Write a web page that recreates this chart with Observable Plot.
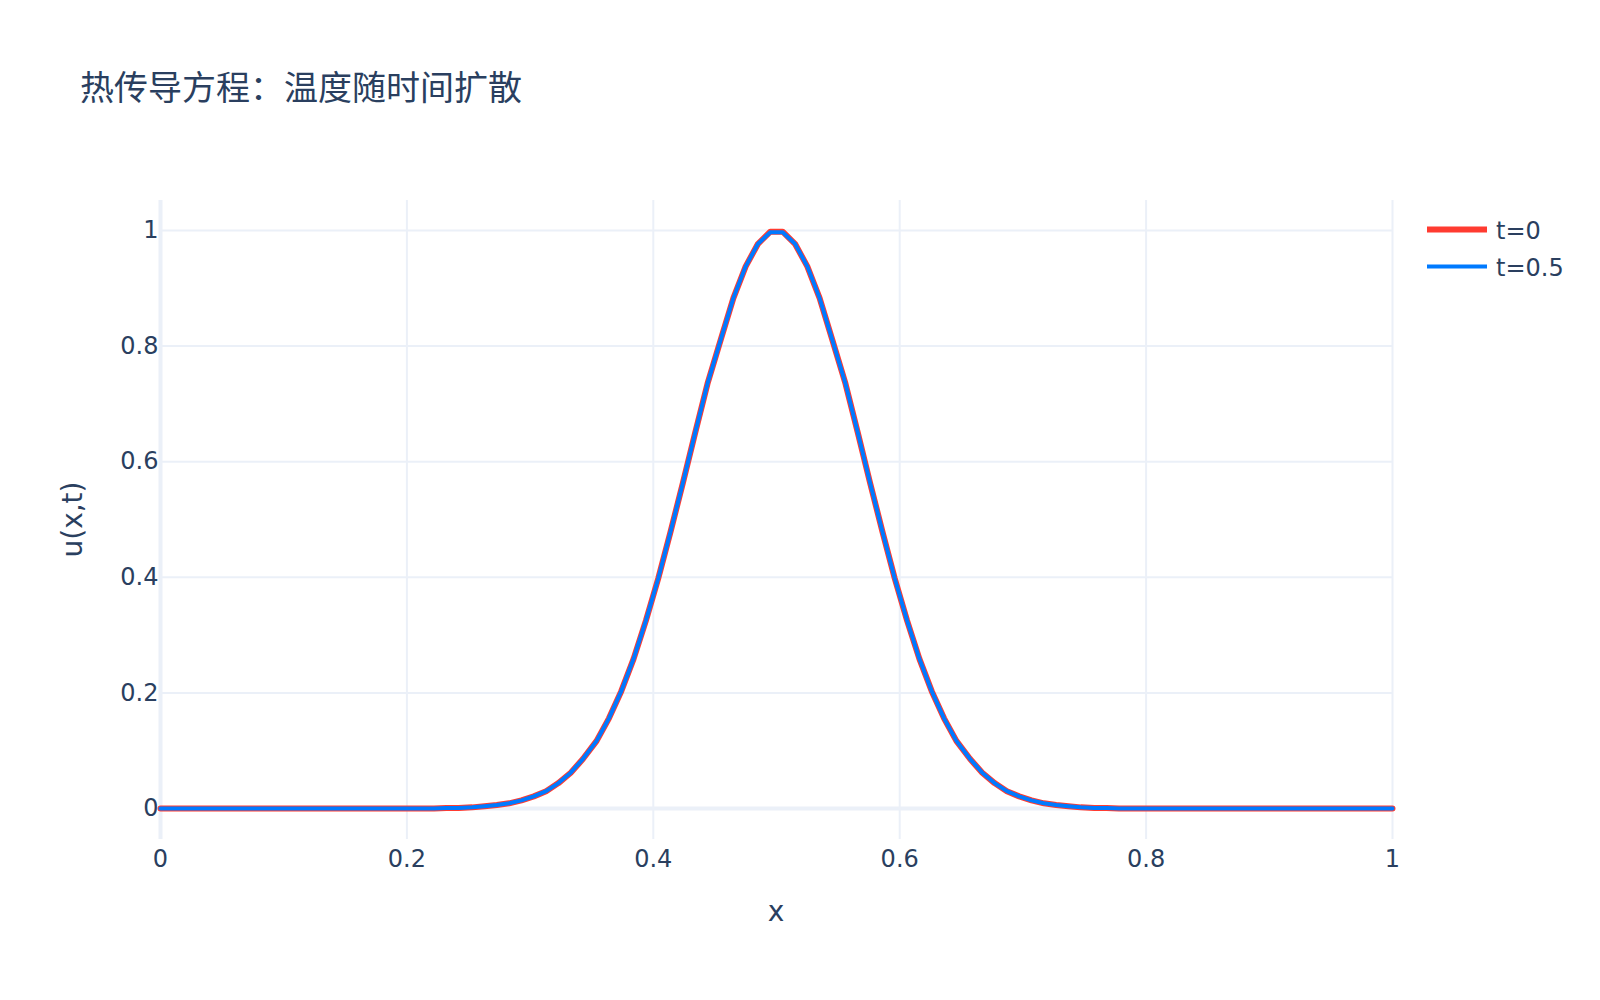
<!DOCTYPE html>
<html>
<head>
<meta charset="utf-8">
<script src="https://cdn.jsdelivr.net/npm/d3@7"></script>
<script src="https://cdn.jsdelivr.net/npm/@observablehq/plot@0.6"></script>
<style>
  html, body { margin: 0; padding: 0; background: #fff; overflow: hidden; }
  #chart { width: 1600px; height: 1000px; }
</style>
</head>
<body>
<div id="chart"></div>
<script>
// ---- data ----
const title = "热传导方程：温度随时间扩散";
const xLabel = "x";
const yLabel = "u(x,t)";
const seriesNames = ["t=0", "t=0.5"];
const seriesColors = ["#FF3B30", "#007AFF"];

const xs = [0,.010,.020,.030,.040,.051,.061,.071,.081,.091,
  .101,.111,.121,.131,.141,.152,.162,.172,.182,.192,
  .202,.212,.222,.232,.242,.253,.263,.273,.283,.293,
  .303,.313,.323,.333,.343,.354,.364,.374,.384,.394,
  .404,.414,.424,.434,.444,.455,.465,.475,.485,.495,
  .505,.515,.525,.535,.545,.556,.566,.576,.586,.596,
  .606,.616,.626,.636,.646,.657,.667,.677,.687,.697,
  .707,.717,.727,.737,.747,.758,.768,.778,.788,.798,
  .808,.818,.828,.838,.848,.859,.869,.879,.889,.899,
  .909,.919,.929,.939,.949,.960,.970,.980,.990,1];

const u0 = [0,0,0,0,0,0,0,0,0,0,
  0,0,0,0,0,0,0,0,0,0,
  0,0,0,.001,.001,.002,.004,.006,.009,.014,
  .021,.030,.044,.062,.086,.117,.156,.203,.259,.325,
  .398,.479,.563,.650,.735,.813,.883,.938,.977,.998,
  .998,.977,.938,.883,.813,.735,.650,.563,.479,.398,
  .325,.259,.203,.156,.117,.086,.062,.044,.030,.021,
  .014,.009,.006,.004,.002,.001,.001,0,0,0,
  0,0,0,0,0,0,0,0,0,0,
  0,0,0,0,0,0,0,0,0,0];

const u05 = [0,0,0,0,0,0,0,0,0,0,
  0,0,0,0,0,0,0,0,0,0,
  0,0,0,.001,.001,.002,.004,.006,.009,.014,
  .021,.030,.044,.062,.086,.117,.156,.203,.259,.325,
  .398,.479,.563,.650,.735,.813,.883,.938,.977,.997,
  .997,.977,.938,.883,.813,.735,.650,.563,.479,.398,
  .325,.259,.203,.156,.117,.086,.062,.044,.030,.021,
  .014,.009,.006,.004,.002,.001,.001,0,0,0,
  0,0,0,0,0,0,0,0,0,0,
  0,0,0,0,0,0,0,0,0,0];

const xTicks = [0, 0.2, 0.4, 0.6, 0.8, 1];
const xTickLabels = ["0", "0.2", "0.4", "0.6", "0.8", "1"];
const yTicks = [0, 0.2, 0.4, 0.6, 0.8, 1];
const yTickLabels = ["0", "0.2", "0.4", "0.6", "0.8", "1"];

// ---- build ----
const rows0 = xs.map((x, i) => ({x, u: u0[i]}));
const rows05 = xs.map((x, i) => ({x, u: u05[i]}));

const grid = "#EBF0F8";
const textColor = "#2a3f5f";
const font = '"DejaVu Sans", Verdana, "Noto Sans CJK SC", sans-serif';
const titleFont = '"Noto Sans CJK SC", "DejaVu Sans", sans-serif';

const W = 1600, H = 1000;
const mL = 160, mR = 208, mT = 200, mB = 161;

const svg = Plot.plot({
  width: W,
  height: H,
  marginLeft: mL,
  marginRight: mR,
  marginTop: mT,
  marginBottom: mB,
  style: {fontFamily: font, fontSize: "24px", color: textColor, background: "#fff"},
  x: {domain: [0, 1]},
  y: {domain: [-0.0536, 1.0519]},
  marks: [
    Plot.ruleX(xTicks.filter(d => d !== 0), {stroke: grid, strokeWidth: 2}),
    Plot.ruleY(yTicks.filter(d => d !== 0), {stroke: grid, strokeWidth: 2}),
    Plot.ruleX([0], {stroke: grid, strokeWidth: 4}),
    Plot.ruleY([0], {stroke: grid, strokeWidth: 4}),
    Plot.axisX(xTicks, {tickSize: 0, tickPadding: 10, label: null, fontSize: 24,
      tickFormat: d => xTickLabels[xTicks.indexOf(d)], fill: textColor}),
    Plot.axisY(yTicks, {tickSize: 0, tickPadding: 2, label: null, fontSize: 24,
      tickFormat: d => yTickLabels[yTicks.indexOf(d)], fill: textColor}),
    Plot.line(rows0, {x: "x", y: "u", stroke: seriesColors[0], strokeWidth: 6}),
    Plot.line(rows05, {x: "x", y: "u", stroke: seriesColors[1], strokeWidth: 4})
  ]
});

const s = d3.select(svg);
const addText = (x, y, size, anchor, str, fam, transform) => {
  const t = s.append("text")
    .attr("fill", textColor).attr("font-size", size)
    .attr("font-family", fam).attr("text-anchor", anchor)
    .style("font-size", size + "px").style("font-family", fam).text(str);
  if (transform) t.attr("transform", transform);
  else t.attr("x", x).attr("y", y);
  return t;
};
// title
addText(80, 99.5, 34, "start", title, titleFont);
// x axis title
addText((mL + W - mR) / 2, 920.5, 28, "middle", xLabel, font);
// y axis title
addText(0, 0, 28, "middle", yLabel, font, `translate(82,${(mT + H - mB) / 2}) rotate(-90)`);
// legend
const legY = [229.5, 266.5];
const legBase = [238.5, 275.5];
const legW = [6, 4];
seriesNames.forEach((name, i) => {
  s.append("line").attr("x1", 1427).attr("x2", 1487)
    .attr("y1", legY[i]).attr("y2", legY[i])
    .attr("stroke", seriesColors[i]).attr("stroke-width", legW[i]);
  addText(1496, legBase[i], 24, "start", name, font);
});

document.getElementById("chart").appendChild(svg);
</script>
</body>
</html>
